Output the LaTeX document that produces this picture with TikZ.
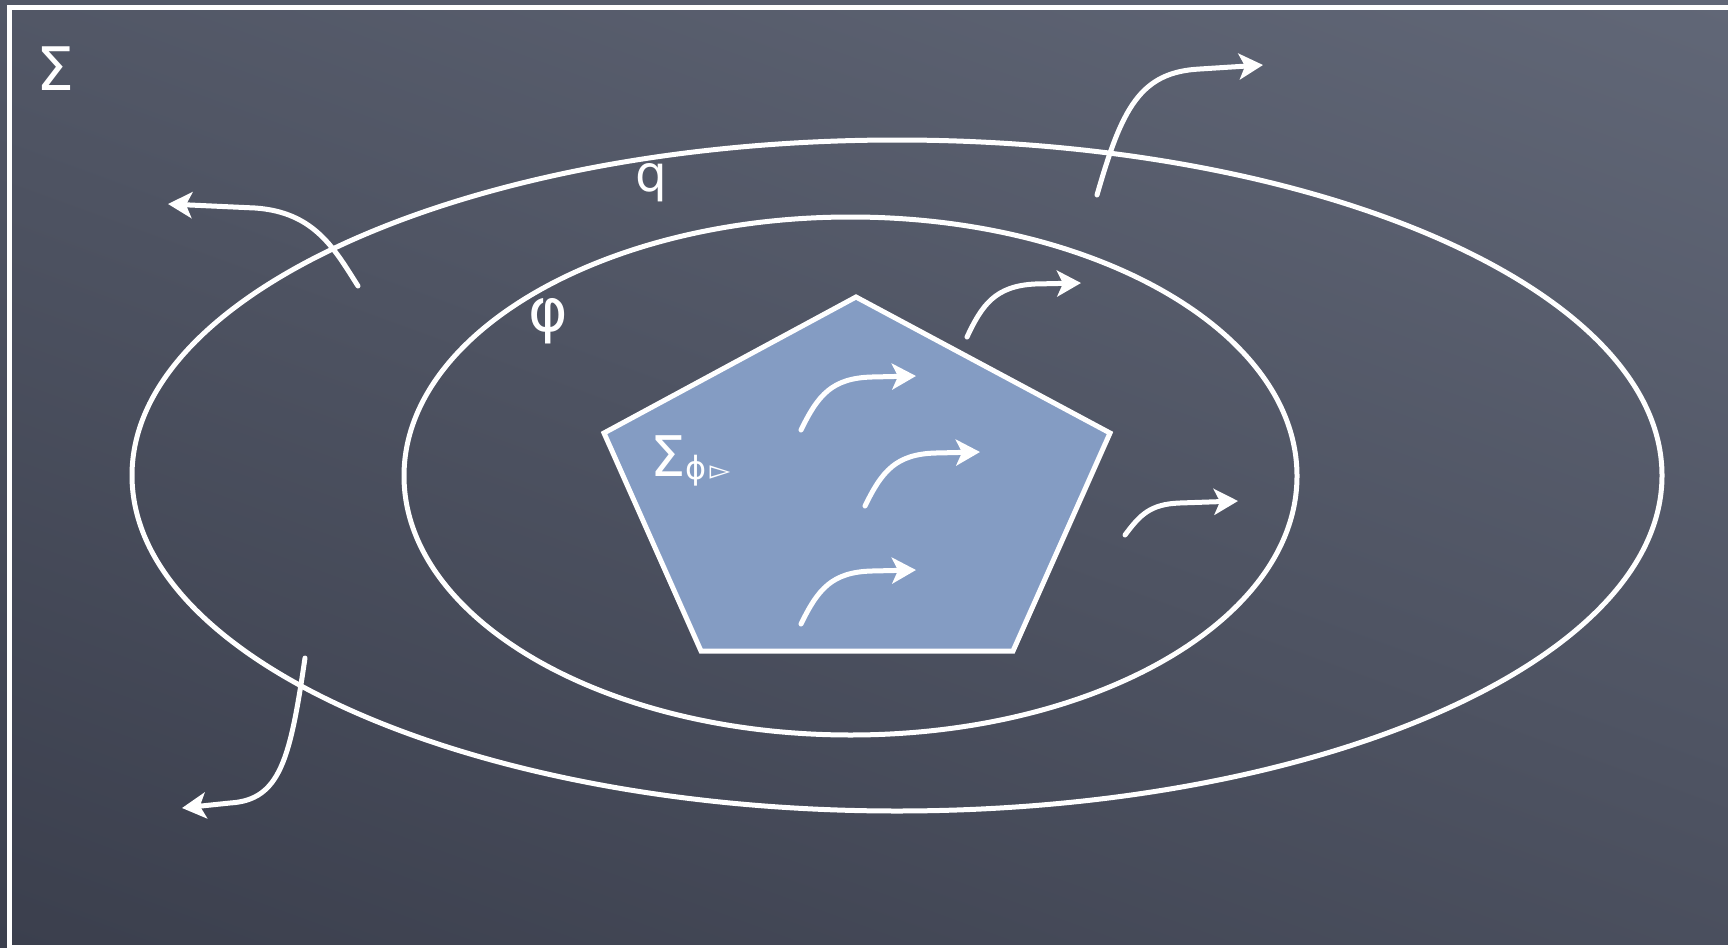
\documentclass[tikz,border=0pt]{standalone}
\usepackage{fontspec}
\setmainfont{DejaVu Sans}
\usetikzlibrary{arrows.meta}
\definecolor{bgtop}{HTML}{626878}
\definecolor{bgbot}{HTML}{3A3E4C}
\definecolor{pentfill}{HTML}{849CC3}
\tikzset{
  chalk/.style={draw=white, line width=5pt},
  flow/.style={draw=white, line width=5pt, line cap=round, -{Stealth[length=24pt,width=26pt,inset=6pt]}},
  lbl/.style={text=white, inner sep=0pt}
}
\begin{document}
\begin{tikzpicture}[x=1pt,y=-1pt]
\useasboundingbox (0,0) rectangle (1728,947);
\clip (0,0) rectangle (1728,947);
\shade[top color=bgtop, bottom color=bgbot, shading angle=-20] (-200,-200) rectangle (1928,1147);
% frame
\draw[chalk] (9,8) rectangle (1760,947);
% ellipses
\coordinate (outerc) at (897,475.5);
\coordinate (innerc) at (850.5,476);
\draw[chalk] (outerc) ellipse [x radius=765pt, y radius=335.5pt];
\draw[chalk] (innerc) ellipse [x radius=446.5pt, y radius=259pt];
% pentagon
\coordinate (pt) at (856,297);
\coordinate (pr) at (1110,433);
\coordinate (pbr) at (1013,651);
\coordinate (pbl) at (701,651);
\coordinate (pl) at (604,433);
\filldraw[chalk, fill=pentfill] (pt) -- (pr) -- (pbr) -- (pbl) -- (pl) -- cycle;
% labels
\node[lbl, font=\fontsize{60}{60}\selectfont] (sig) at (55.5,69) {Σ};
\node[lbl, font=\fontsize{50}{50}\selectfont] (q) at (651,183) {q};
\node[lbl, font=\fontsize{60}{60}\selectfont] (phi) at (548,321) {φ};
\node[lbl, anchor=base west, font=\fontsize{56}{56}\selectfont] (sigphi) at (650,476) {Σ\raisebox{-3pt}{\fontsize{32}{32}\selectfont ϕ\hspace{3pt}\fontsize{27}{27}\selectfont ▻}};
% arrows
\coordinate (a1s) at (801,430); \coordinate (a1e) at (916,376);
\draw[flow] (a1s) .. controls (818,395) and (832,378) .. (872,377) -- (a1e);
\coordinate (a2s) at (865,506); \coordinate (a2e) at (980,452);
\draw[flow] (a2s) .. controls (882,471) and (896,454) .. (936,453) -- (a2e);
\coordinate (a3s) at (801,624); \coordinate (a3e) at (916,570);
\draw[flow] (a3s) .. controls (818,589) and (832,572) .. (872,571) -- (a3e);
\coordinate (a4s) at (967,337); \coordinate (a4e) at (1081,283);
\draw[flow] (a4s) .. controls (982,305) and (995,286) .. (1035,284) -- (a4e);
\coordinate (a5s) at (1125,535); \coordinate (a5e) at (1238,501);
\draw[flow] (a5s) .. controls (1140,515) and (1150,504) .. (1180,503) -- (a5e);
\coordinate (a6s) at (1097,195); \coordinate (a6e) at (1263,65);
\draw[flow] (a6s) .. controls (1122,108) and (1140,72) .. (1200,69) -- (a6e);
\coordinate (a7s) at (358,286); \coordinate (a7e) at (168,204);
\draw[flow] (a7s) .. controls (335,250) and (315,212) .. (255,208) -- (a7e);
\coordinate (a8s) at (305,658); \coordinate (a8e) at (182,808);
\draw[flow] (a8s) .. controls (290,760) and (280,800) .. (230,803) -- (a8e);
\end{tikzpicture}
\end{document}
